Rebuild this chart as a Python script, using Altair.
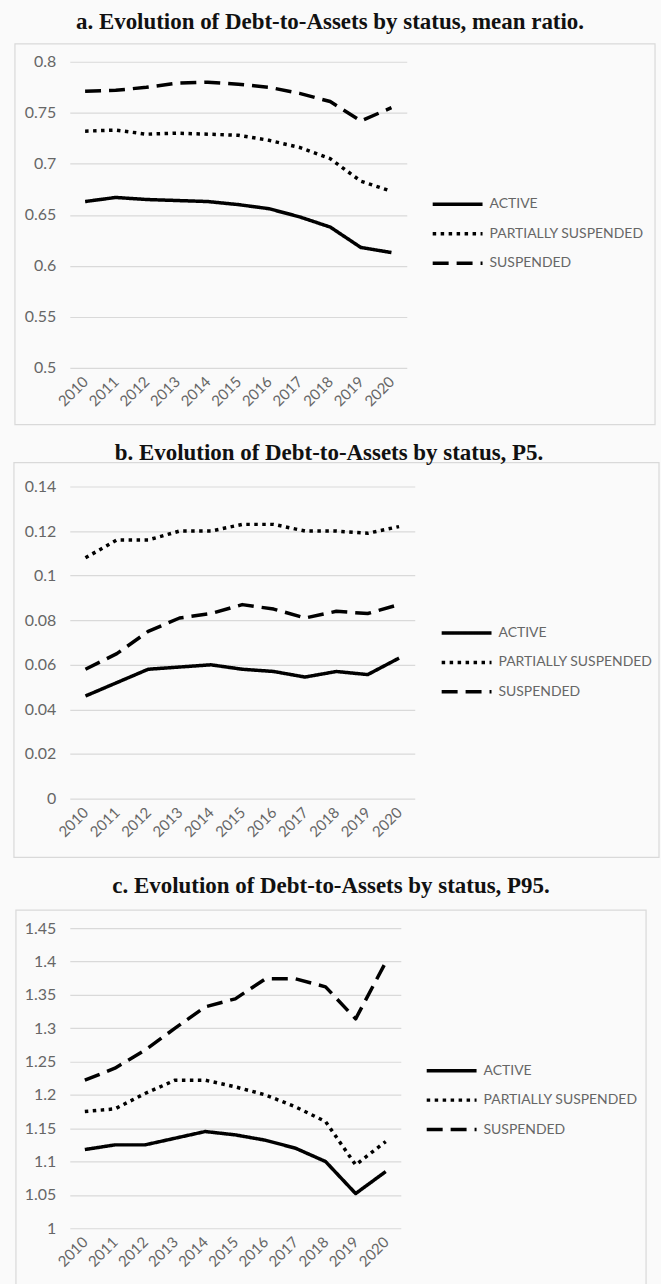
import altair as alt
import pandas as pd

# ---- data -------------------------------------------------------------
years = [str(y) for y in range(2010, 2021)]
statuses = ["ACTIVE", "PARTIALLY SUSPENDED", "SUSPENDED"]

titles = [
    "a. Evolution of Debt-to-Assets by status, mean ratio.",
    "b. Evolution of Debt-to-Assets by status, P5.",
    "c. Evolution of Debt-to-Assets by status, P95.",
]

mean_active = [0.663, 0.667, 0.665, 0.664, 0.663, 0.660, 0.656, 0.648, 0.638, 0.618, 0.613]
mean_partial = [0.732, 0.733, 0.729, 0.730, 0.729, 0.728, 0.723, 0.716, 0.705, 0.683, 0.673]
mean_suspended = [0.771, 0.772, 0.775, 0.779, 0.780, 0.778, 0.775, 0.769, 0.761, 0.742, 0.755]

p5_active = [0.046, 0.052, 0.058, 0.059, 0.060, 0.058, 0.057, 0.0545, 0.057, 0.0556, 0.063]
p5_partial = [0.108, 0.116, 0.116, 0.120, 0.120, 0.123, 0.123, 0.120, 0.120, 0.119, 0.122]
p5_suspended = [0.058, 0.065, 0.075, 0.081, 0.083, 0.087, 0.085, 0.081, 0.084, 0.083, 0.087]

p95_active = [1.118, 1.125, 1.125, 1.135, 1.145, 1.140, 1.132, 1.120, 1.100, 1.052, 1.085]
p95_partial = [1.175, 1.179, 1.202, 1.222, 1.222, 1.212, 1.200, 1.182, 1.160, 1.095, 1.130]
p95_suspended = [1.222, 1.240, 1.267, 1.300, 1.332, 1.344, 1.374, 1.374, 1.362, 1.314, 1.399]

y_ticks_mean = [0.5, 0.55, 0.6, 0.65, 0.7, 0.75, 0.8]
y_ticks_p5 = [0, 0.02, 0.04, 0.06, 0.08, 0.1, 0.12, 0.14]
y_ticks_p95 = [1, 1.05, 1.1, 1.15, 1.2, 1.25, 1.3, 1.35, 1.4, 1.45]

# ---- styling ----------------------------------------------------------
GRID = "#d9d9d9"
LABEL = "#666666"
SANS = "Lato"
SERIF = "Liberation Serif"
LINE_W = 3.5
DASHES = [[1, 0], [3.5, 4.5], [16, 8]]
LEGEND_LEN = 50


def long_table(active, partial, suspended):
    rows = []
    for name, series in zip(statuses, [active, partial, suspended]):
        for yr, v in zip(years, series):
            rows.append({"year": yr, "value": v, "status": name})
    return pd.DataFrame(rows)


def panel(title, table, ticks, width, height, cell, box, title_pos, legend_pos):
    """One framed line chart: frame, bold title, three series, legend.

    `cell` is the slot (relative to the plot origin) that the panel occupies
    in the stacked layout; an invisible rect spans it so that every panel
    claims exactly that much room.
    """
    lo, hi = ticks[0], ticks[-1]
    one = pd.DataFrame({"k": [0]})

    slot = alt.Chart(one).mark_rect(opacity=0).encode(
        x=alt.value(cell[0]), x2=alt.value(cell[1]),
        y=alt.value(cell[2]), y2=alt.value(cell[3]),
    )

    frame = alt.Chart(one).mark_rect(
        filled=False, stroke=GRID, strokeWidth=1.2
    ).encode(
        x=alt.value(box[0]), x2=alt.value(box[1]),
        y=alt.value(box[2]), y2=alt.value(box[3]),
    )

    heading = alt.Chart(pd.DataFrame({"t": [title]})).mark_text(
        font=SERIF, fontSize=23, fontWeight="bold", color="#111111",
        align="center", baseline="middle",
    ).encode(
        text="t:N", x=alt.value(title_pos[0]), y=alt.value(title_pos[1])
    )

    lines = alt.Chart(table).mark_line(
        color="black", strokeWidth=LINE_W, strokeJoin="round"
    ).encode(
        x=alt.X(
            "year:O",
            sort=years,
            scale=alt.Scale(type="point", padding=0.5),
            axis=alt.Axis(
                title=None, labelAngle=-45, labelAlign="right",
                labelBaseline="middle", labelPadding=11,
                labelFont=SANS, labelFontSize=15, labelColor=LABEL,
                domain=False, ticks=False, grid=False,
            ),
        ),
        y=alt.Y(
            "value:Q",
            scale=alt.Scale(domain=[lo, hi], nice=False, zero=False),
            axis=alt.Axis(
                title=None, values=ticks, format="~g",
                labelFont=SANS, labelFontSize=16, labelColor=LABEL,
                labelPadding=14, domain=False, ticks=False,
                grid=True, gridColor=GRID, gridWidth=1.2,
            ),
        ),
        strokeDash=alt.StrokeDash(
            "status:N",
            scale=alt.Scale(domain=statuses, range=DASHES),
            legend=alt.Legend(
                title=None, orient="none",
                legendX=legend_pos[0], legendY=legend_pos[1],
                symbolType="stroke", symbolSize=LEGEND_LEN * LEGEND_LEN,
                symbolStrokeWidth=LINE_W, symbolStrokeColor="black",
                clipHeight=16, rowPadding=13.5, labelOffset=5,
                labelFont=SANS, labelFontSize=14, labelColor=LABEL,
                padding=0,
            ),
        ),
        order=alt.Order("year:O"),
    )

    return alt.layer(slot, frame, heading, lines).properties(
        width=width, height=height
    )


chart_a = panel(
    titles[0], long_table(mean_active, mean_partial, mean_suspended), y_ticks_mean,
    338, 307, (-69, 592, -60, 370), (-55, 587, -18, 364), (261, -40), (362, 135),
)
chart_b = panel(
    titles[1], long_table(p5_active, p5_partial, p5_suspended), y_ticks_p5,
    346, 313, (-70, 591, -56, 374), (-56, 591, -24, 372), (260, -34), (371, 139),
)
chart_c = panel(
    titles[2], long_table(p95_active, p95_partial, p95_suspended), y_ticks_p95,
    332, 301, (-68, 593, -69, 361), (-54, 578, -18, 360), (262, -42), (356, 135),
)

chart = alt.vconcat(chart_a, chart_b, chart_c, spacing=0).resolve_scale(
    x="independent", y="independent", strokeDash="independent"
).resolve_legend(strokeDash="independent").properties(
    padding=0,
    background="#fafafa",
).configure_view(stroke=None)

chart.save("out.html", embed_options={"renderer": "svg", "actions": False})
